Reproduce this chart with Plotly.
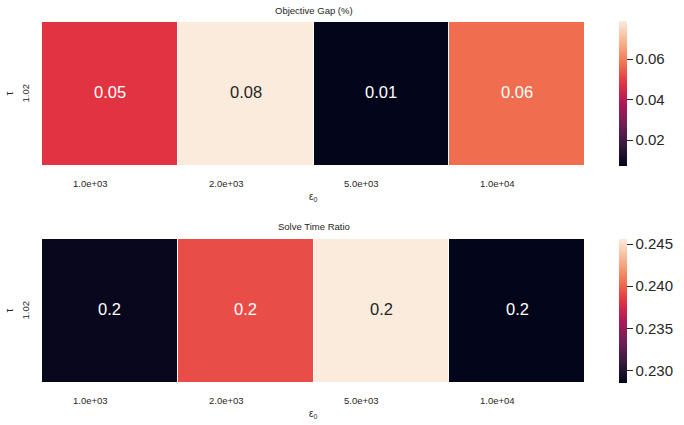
import plotly.graph_objects as go

eps0_labels = ["1.0e+03", "2.0e+03", "5.0e+03", "1.0e+04"]
tau_labels = ["1.02"]
obj_gap = [0.048, 0.0788, 0.0072, 0.057]
solve_ratio = [0.2288, 0.2392, 0.2456, 0.2285]
titles = ["Objective Gap (%)", "Solve Time Ratio"]
obj_ticks = [0.02, 0.04, 0.06]
ratio_ticks = [0.230, 0.235, 0.240, 0.245]

rocket = [
    [0.0, "#03051a"], [0.143, "#35193e"], [0.286, "#701f57"], [0.429, "#ad1759"],
    [0.571, "#e13342"], [0.714, "#f37651"], [0.857, "#f6b48f"], [1.0, "#faebdd"],
]

W, H = 684, 425
FONT = "Liberation Sans, Arial, sans-serif"
TXT = "#262626"

def px(x):
    return x / W

def py(y):
    return 1 - y / H

panels = [
    dict(vals=obj_gap, ticks=obj_ticks, top=22, bot=165, cbtop=21, cbbot=166, tfmt=".2f"),
    dict(vals=solve_ratio, ticks=ratio_ticks, top=239, bot=382, cbtop=239, cbbot=383, tfmt=".3f"),
]

xi = list(range(len(eps0_labels)))
yi = list(range(len(tau_labels)))

fig = go.Figure()
annotations = []
for i, p in enumerate(panels):
    xa = "x" if i == 0 else "x2"
    ya = "y" if i == 0 else "y2"
    vmin, vmax = min(p["vals"]), max(p["vals"])
    fig.add_trace(go.Heatmap(
        z=[p["vals"]], x=xi, y=yi,
        colorscale=rocket, zmin=vmin, zmax=vmax,
        xgap=1, ygap=0, xaxis=xa, yaxis=ya, hoverinfo="skip",
        colorbar=dict(
            x=px(619), xanchor="left", xref="paper",
            y=py(p["cbbot"]), yanchor="bottom", yref="paper",
            len=(p["cbbot"] - p["cbtop"]) / H, lenmode="fraction",
            thickness=8, thicknessmode="pixels", xpad=0, ypad=0,
            outlinewidth=0, tickvals=p["ticks"], tickformat=p["tfmt"],
            ticks="outside", ticklen=6, tickwidth=1.3, tickcolor=TXT,
            tickfont=dict(family=FONT, size=15, color=TXT),
        ),
    ))
    for k, v in zip(xi, p["vals"]):
        frac = (v - vmin) / (vmax - vmin)
        col = TXT if frac > 0.8 else "white"
        annotations.append(dict(
            x=k, y=0, xref=xa, yref=ya, yanchor="middle", xanchor="center", yshift=1.5,
            text=("%.2f" % v) if i == 0 else ("%.1f" % v),
            showarrow=False, font=dict(family=FONT, size=16.5, color=col),
        ))
    for k, c in zip(xi, eps0_labels):
        annotations.append(dict(
            x=k, y=py(p["bot"] + 18), xref=xa, yref="paper",
            text=c, showarrow=False, xanchor="right", yanchor="middle",
            font=dict(family=FONT, size=9.5, color=TXT),
        ))
    mid_y = (p["top"] + p["bot"]) / 2
    annotations.append(dict(
        x=px(25), y=py(mid_y), xref="paper", yref="paper", text=tau_labels[0],
        xanchor="center", yanchor="middle",
        textangle=-90, showarrow=False, font=dict(family=FONT, size=9.5, color=TXT),
    ))
    annotations.append(dict(
        x=px(9), y=py(mid_y), xref="paper", yref="paper", text="τ",
        xanchor="center", yanchor="middle",
        textangle=-90, showarrow=False, font=dict(family=FONT, size=10, color=TXT),
    ))
    annotations.append(dict(
        x=px(313.5), y=py(p["top"] - 12), xref="paper", yref="paper", text=titles[i],
        xanchor="center", yanchor="middle",
        showarrow=False, font=dict(family=FONT, size=9.5, color=TXT),
    ))
    annotations.append(dict(
        x=px(313), y=py(p["bot"] + 32), xref="paper", yref="paper", text="ε<sub>0</sub>",
        xanchor="center", yanchor="middle",
        showarrow=False, font=dict(family=FONT, size=10, color=TXT),
    ))

ax_common = dict(showticklabels=False, ticks="", showgrid=False,
                 zeroline=False, showline=False)
fig.update_layout(
    width=W, height=H, margin=dict(l=0, r=0, t=0, b=0),
    paper_bgcolor="white", plot_bgcolor="white",
    xaxis=dict(domain=[px(42), px(585)], anchor="y", range=[-0.5, 3.5], **ax_common),
    yaxis=dict(domain=[py(165), py(22)], anchor="x", range=[-0.5, 0.5], **ax_common),
    xaxis2=dict(domain=[px(42), px(585)], anchor="y2", range=[-0.5, 3.5], **ax_common),
    yaxis2=dict(domain=[py(382), py(239)], anchor="x2", range=[-0.5, 0.5], **ax_common),
    annotations=annotations,
    showlegend=False,
)

fig.write_html("out.html")
